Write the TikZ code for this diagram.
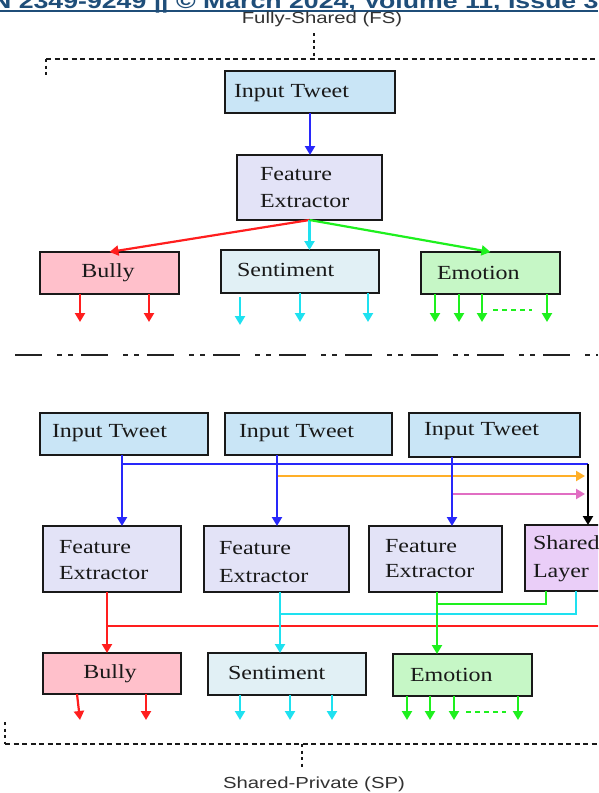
\documentclass[tikz,border=0pt]{standalone}
\usepackage{fontspec}
\setmainfont{Liberation Serif}
\newfontfamily\hdrfont{Liberation Sans}
\usetikzlibrary{arrows.meta,calc}
\definecolor{hdrc}{RGB}{31,78,121}
\definecolor{lblc}{RGB}{50,50,50}
\definecolor{txtc}{RGB}{25,25,25}
\definecolor{boxline}{RGB}{25,25,25}
\definecolor{frame}{RGB}{25,25,25}
\definecolor{sepc}{RGB}{35,35,35}
\definecolor{itfill}{RGB}{201,229,246}
\definecolor{fefill}{RGB}{227,227,247}
\definecolor{bullyfill}{RGB}{255,192,203}
\definecolor{sentfill}{RGB}{225,240,245}
\definecolor{emofill}{RGB}{198,247,198}
\definecolor{slfill}{RGB}{234,206,248}
\definecolor{blueA}{RGB}{40,40,250}
\definecolor{redA}{RGB}{255,30,30}
\definecolor{cyanA}{RGB}{30,225,240}
\definecolor{greenA}{RGB}{30,240,30}
\definecolor{orangeA}{RGB}{255,175,40}
\definecolor{pinkA}{RGB}{225,110,195}
\newcommand\bt[1]{\scalebox{1.2}[1]{#1}}
\newcommand\st[1]{\scalebox{1.27}[1]{#1}}
\newcommand\bx[6]{\node[boxst,fill=#6,minimum width={#4-#2},minimum height={#5-#3}] (#1) at ({(#2+#4)/2},{(#3+#5)/2}) {};}
\tikzset{
  boxst/.style={draw=boxline, line width=2.5pt, inner sep=0pt, outer sep=0pt, rectangle},
  txt/.style={inner sep=0pt, outer sep=0pt, text=txtc, font=\fontsize{20}{24}\selectfont},
  lbl/.style={inner sep=0pt, outer sep=0pt, text=lblc, font=\hdrfont\fontsize{16}{19}\selectfont},
  conn/.style={line width=2.2pt},
  arr/.style={conn, -{Triangle[length=9pt,width=10pt]}},
  dashh/.style={line width=2.2pt, draw=frame, dash pattern=on 5pt off 3.5pt},
  dotv/.style={line width=2.4pt, draw=frame, dash pattern=on 3pt off 3.5pt},
  sepst/.style={line width=2.6pt, draw=sepc, dash pattern=on 27pt off 15pt on 5pt off 6pt on 5pt off 8pt},
  gdash/.style={line width=2.2pt, draw=greenA, dash pattern=on 5pt off 4pt}
}
\begin{document}
\begin{tikzpicture}[x=1pt,y=-1pt]
\path[use as bounding box] (0,0) rectangle (598,793);
\clip (0,0) rectangle (598,793);
\fill[white] (0,0) rectangle (598,793);
% header
\node[anchor=base west, inner sep=0pt, text=hdrc, font=\hdrfont\fontsize{21}{24}\selectfont\bfseries] (hdr) at (-8,8) {\st{N 2349-9249 || © March 2024, Volume 11, Issue 3}};
\coordinate (hl) at (0,11); \coordinate (hr) at (598,11);
\draw[hdrc, line width=1.8pt] (hl) -- (hr);
% ---------- Fully-Shared ----------
\node[lbl, anchor=base] (fslbl) at (322,23) {\st{Fully-Shared (FS)}};
\coordinate (fs1) at (314,33); \coordinate (fs2) at (314,59);
\coordinate (fs3) at (46,59); \coordinate (fs4) at (598,59); \coordinate (fs5) at (46,75);
\draw[dotv] (fs1) -- (fs2);
\draw[dashh] (fs3) -- (fs4);
\draw[dotv] (fs3) -- (fs5);
\bx{tIT}{225}{71}{395}{113}{itfill}
\bx{tFE}{237}{155}{382}{220}{fefill}
\bx{tB}{40}{252}{179}{294}{bullyfill}
\bx{tS}{221}{250}{379}{293}{sentfill}
\bx{tE}{421}{252}{560}{294}{emofill}
\node[txt,anchor=base west] (tITt) at (234,97) {\bt{Input Tweet}};
\node[txt,anchor=base west] (tFEa) at (260,180) {\bt{Feature}};
\node[txt,anchor=base west] (tFEb) at (260,207) {\bt{Extractor}};
\node[txt,anchor=base] (tBt) at (108,277) {\bt{Bully}};
\node[txt,anchor=base west] (tSt) at (237,276) {\bt{Sentiment}};
\node[txt,anchor=base west] (tEt) at (437,279) {\bt{Emotion}};
\draw[arr,blueA] (tIT.south) -- (tIT.south |- tFE.north);
\draw[arr,redA] (tFE.south) -- (tB.north);
\draw[arr,cyanA] (tFE.south) -- (tFE.south |- tS.north);
\draw[arr,greenA] (tFE.south) -- (tE.north);
\foreach \dx in {-29.5,39.5} \draw[arr,redA] ($(tB.south)+(\dx,0)$) -- ++(0,28);
\draw[arr,cyanA] ($(tS.south)+(-60,4)$) -- ++(0,28);
\foreach \dx in {0,68} \draw[arr,cyanA] ($(tS.south)+(\dx,0)$) -- ++(0,29);
\foreach \dx in {-55.5,-31.5,-8.5,56.5} \draw[arr,greenA] ($(tE.south)+(\dx,0)$) -- ++(0,28);
\draw[gdash] ($(tE.south)+(2.5,16)$) -- ($(tE.south)+(41.5,16)$);
% separator
\coordinate (sepL) at (15,355); \coordinate (sepR) at (598,355);
\draw[sepst] (sepL) -- (sepR);
% ---------- Shared-Private ----------
\bx{IT1}{40}{413}{208}{455}{itfill}
\bx{IT2}{225}{413}{392}{455}{itfill}
\bx{IT3}{409}{413}{580}{457}{itfill}
\bx{FE1}{43}{526}{181}{592}{fefill}
\bx{FE2}{204}{526}{349}{592}{fefill}
\bx{FE3}{369}{526}{502}{592}{fefill}
\bx{SL}{525}{525}{625}{591}{slfill}
\bx{B}{43}{653}{181}{694}{bullyfill}
\bx{S}{208}{653}{366}{695}{sentfill}
\bx{E}{393}{654}{532}{696}{emofill}
\node[txt,anchor=base west] (IT1t) at (52,437) {\bt{Input Tweet}};
\node[txt,anchor=base west] (IT2t) at (239,437) {\bt{Input Tweet}};
\node[txt,anchor=base west] (IT3t) at (424,435) {\bt{Input Tweet}};
\node[txt,anchor=base west] (FE1a) at (59,553) {\bt{Feature}};
\node[txt,anchor=base west] (FE1b) at (59,579) {\bt{Extractor}};
\node[txt,anchor=base west] (FE2a) at (219,554) {\bt{Feature}};
\node[txt,anchor=base west] (FE2b) at (219,582) {\bt{Extractor}};
\node[txt,anchor=base west] (FE3a) at (385,552) {\bt{Feature}};
\node[txt,anchor=base west] (FE3b) at (385,577) {\bt{Extractor}};
\node[txt,anchor=base west] (SLa) at (533,549) {\bt{Shared}};
\node[txt,anchor=base west] (SLb) at (533,577) {\bt{Layer}};
\node[txt,anchor=base] (Bt) at (110,678) {\bt{Bully}};
\node[txt,anchor=base west] (St) at (228,679) {\bt{Sentiment}};
\node[txt,anchor=base west] (Et) at (410,681) {\bt{Emotion}};
% upper routing
\coordinate (j1) at (122,464); \coordinate (j2) at (588,464);
\coordinate (j3) at (277,476); \coordinate (j4) at (585,476);
\coordinate (j5) at (452,494); \coordinate (j6) at (585,494);
\draw[conn,blueA] (j1) -- (j2);
\draw[arr,black] (j2) -- (j2 |- SL.north);
\draw[arr,orangeA] (j3) -- (j4);
\draw[arr,pinkA] (j5) -- (j6);
\draw[arr,blueA] (j1 |- IT1.south) -- (j1 |- FE1.north);
\draw[arr,blueA] (j3 |- IT2.south) -- (j3 |- FE2.north);
\draw[arr,blueA] (j5 |- IT3.south) -- (j5 |- FE3.north);
% lower routing
\coordinate (r1) at (107,626); \coordinate (r2) at (600,626);
\coordinate (c1) at (280,614); \coordinate (c2) at (576,614);
\coordinate (g1) at (437,604); \coordinate (g2) at (546,604);
\draw[conn,redA] (r1) -- (r2);
\draw[conn,cyanA] (c1) -- (c2) -- (c2 |- SL.south);
\draw[conn,greenA] (g1) -- (g2) -- (g2 |- SL.south);
\draw[arr,redA] (r1 |- FE1.south) -- (r1 |- B.north);
\draw[arr,cyanA] (c1 |- FE2.south) -- (c1 |- S.north);
\draw[arr,greenA] (g1 |- FE3.south) -- (g1 |- E.north);
% outputs
\draw[arr,redA] ($(B.south)+(-35,0)$) -- ++(3,26);
\draw[arr,redA] ($(B.south)+(34,0)$) -- ++(0,26);
\foreach \dx in {-47,3,45} \draw[arr,cyanA] ($(S.south)+(\dx,0)$) -- ++(0,25);
\foreach \dx in {-55.5,-32.5,-8.5,55.5} \draw[arr,greenA] ($(E.south)+(\dx,0)$) -- ++(0,24);
\draw[gdash] ($(E.south)+(3.5,16)$) -- ($(E.south)+(43.5,16)$);
% bottom frame
\coordinate (sp1) at (5,722); \coordinate (sp2) at (5,744); \coordinate (sp3) at (598,744);
\coordinate (sp4) at (302,744); \coordinate (sp5) at (302,770);
\draw[dotv] (sp1) -- (sp2);
\draw[dashh] (sp2) -- (sp3);
\draw[dotv] (sp4) -- (sp5);
\node[lbl, anchor=base] (splbl) at (314,788) {\st{Shared-Private (SP)}};
\end{tikzpicture}
\end{document}
